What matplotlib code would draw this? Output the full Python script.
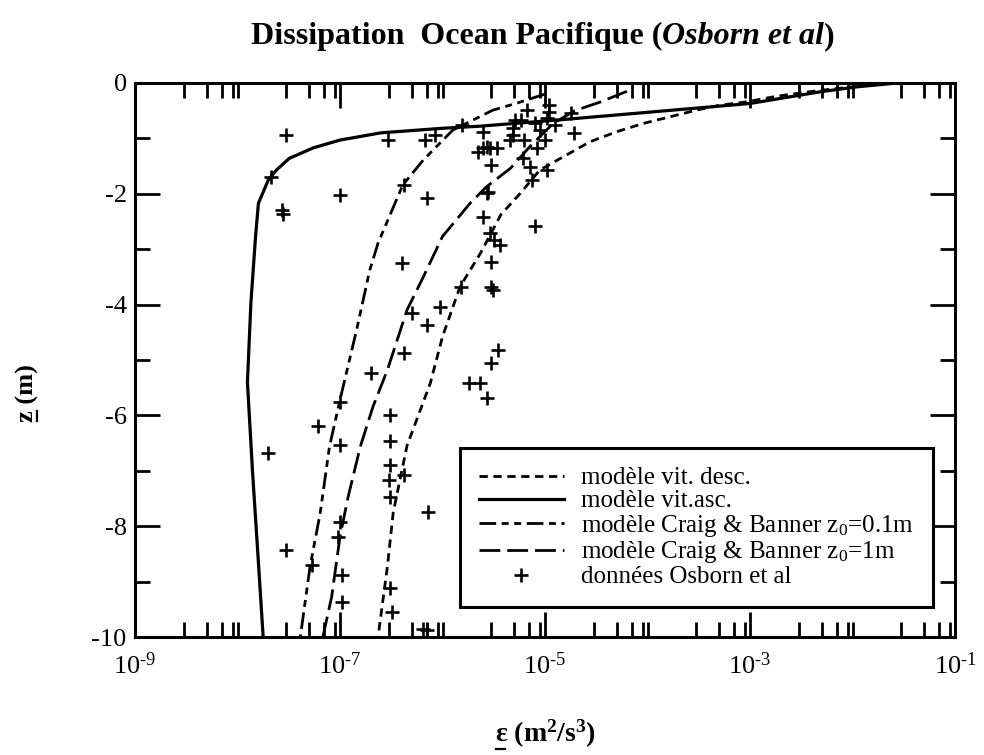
import matplotlib
matplotlib.use("Agg")
import matplotlib.pyplot as plt
from matplotlib.ticker import FixedLocator, NullFormatter
from matplotlib.lines import Line2D

plt.rcParams["font.family"] = ["Liberation Serif", "DejaVu Serif"]
plt.rcParams["mathtext.fontset"] = "custom"
plt.rcParams["mathtext.rm"] = "Liberation Serif"
plt.rcParams["mathtext.it"] = "Liberation Serif:italic"
plt.rcParams["mathtext.bf"] = "Liberation Serif:bold"
plt.rcParams["mathtext.default"] = "regular"
plt.rcParams["axes.unicode_minus"] = False
plt.rcParams["lines.scale_dashes"] = False

# --- model profiles: depth z (m) and dissipation eps (m^2/s^3) ---
asc_z = [0.0, -0.07, -0.16, -0.37, -0.66, -0.78, -0.82, -0.90, -1.03, -1.17,
         -1.36, -1.57, -1.75, -2.17, -2.77, -3.98, -5.4, -7.0, -8.5, -10.0]
asc_eps = [2.7e-2, 1.1e-2, 4.8e-3, 1.0e-3, 1.5e-5, 2.3e-6, 9.5e-7, 2.5e-7, 1.0e-7, 5.5e-8,
           3.2e-8, 2.4e-8, 2.0e-8, 1.6e-8, 1.5e-8, 1.35e-8, 1.25e-8, 1.4e-8, 1.58e-8, 1.78e-8]

desc_z = [-0.06, -0.14, -0.24, -0.34, -0.40, -0.49, -0.61, -0.73, -0.88, -1.06, -1.30, -1.57,
          -1.99, -2.38, -3.07, -3.68, -4.58, -5.42, -6.55, -7.76, -8.73, -10.0]
desc_eps = [1.1e-2, 4.5e-3, 1.8e-3, 9.3e-4, 5.1e-4, 3.0e-4, 1.66e-4, 9.1e-5, 5.0e-5, 2.75e-5,
            1.62e-5, 8.9e-6, 5.75e-6, 3.7e-6, 2.35e-6, 1.48e-6, 1.0e-6, 7.6e-7, 4.5e-7, 3.3e-7,
            2.9e-7, 2.35e-7]

cb01_z = [-0.2, -0.36, -0.49, -0.85, -1.39, -1.84, -2.89, -3.38, -4.46, -5.72,
          -6.56, -7.77, -8.73, -10.0]
cb01_eps = [1.0e-5, 5.4e-6, 3.1e-6, 1.26e-6, 6.5e-7, 4.1e-7, 2.35e-7, 1.95e-7, 1.45e-7, 1.0e-7,
            7.9e-8, 6.4e-8, 5.1e-8, 4.1e-8]

cb1_z = [-0.15, -0.34, -0.5, -0.73, -1.15, -1.54, -1.87, -2.17, -2.77, -3.50,
         -4.10, -5.18, -5.84, -6.56, -7.47, -8.19, -9.27, -10.0]
cb1_eps = [6.3e-5, 3.5e-5, 1.95e-5, 1.2e-5, 7.1e-6, 4.6e-6, 2.7e-6, 1.86e-6, 1.0e-6, 6.5e-7,
           4.5e-7, 2.9e-7, 2.1e-7, 1.58e-7, 1.2e-7, 1.0e-7, 8.3e-8, 6.8e-8]

# --- Osborn et al. measurements ---
obs_eps = [3.0e-8, 2.95e-7, 6.7e-7, 8.5e-7, 1.55e-6, 2.5e-6, 2.5e-6, 2.9e-6, 2.2e-6, 3.4e-6,
           3.0e-6, 4.9e-6, 5.1e-6, 2.1e-8, 1.0e-7, 7.0e-7, 4.2e-7, 2.7e-6, 2.7e-8, 2.8e-8,
           2.5e-6, 2.9e-6, 3.2e-6, 3.6e-6, 3.0e-6, 3.0e-6, 3.1e-6, 4.0e-7, 1.5e-6, 9.5e-7,
           5.0e-7, 7.0e-7, 4.2e-7, 2.0e-7, 3.5e-6, 3.0e-6, 1.8e-6, 2.3e-6, 2.7e-6, 1.0e-7,
           6.1e-8, 2.0e-8, 1.0e-7, 3.1e-7, 3.1e-7, 3.1e-7, 4.2e-7, 3.0e-7, 3.1e-7, 7.3e-7,
           1.0e-7, 9.6e-8, 3.0e-8, 5.3e-8, 1.05e-7, 1.05e-7, 3.1e-7, 3.2e-7, 6.6e-6, 1.1e-5,
           4.9e-6, 1.05e-5, 8.0e-6, 1.8e-5, 1.9e-5, 2.7e-6, 8.3e-6, 6.1e-6, 7.1e-6, 1.05e-5,
           7.4e-6, 2.8e-6, 8.0e-6, 5.8e-6, 9.0e-6, 1.26e-5, 6.3e-6, 1.0e-5, 4.6e-6, 1.1e-5,
           6.5e-7, 7.0e-7]
obs_z = [-0.94, -1.03, -1.03, -0.94, -0.76, -0.88, -1.17, -1.17, -1.24, -1.17,
         -1.48, -0.94, -0.67, -1.69, -2.02, -2.08, -1.84, -1.99, -2.30, -2.37,
         -2.41, -2.71, -2.83, -2.92, -3.23, -3.68, -3.74, -3.25, -3.68, -4.04,
         -4.16, -4.37, -4.88, -5.24, -4.82, -5.06, -5.42, -5.42, -5.69, -5.75,
         -6.19, -6.68, -6.53, -5.99, -6.47, -6.90, -7.08, -7.17, -7.47, -7.74,
         -7.92, -8.19, -8.43, -8.70, -8.88, -9.36, -9.12, -9.54, -0.49, -0.40,
         -0.81, -0.64, -0.73, -0.55, -0.91, -1.15, -1.18, -1.36, -1.51, -1.57,
         -1.75, -1.96, -2.59, -0.67, -0.85, -0.76, -1.03, -1.03, -1.03, -0.52,
         -9.85, -9.88]

x_major = [1e-9, 1e-7, 1e-5, 1e-3, 1e-1]
x_labels = ["10$^{\u20109}$", "10$^{\u20107}$", "10$^{\u20105}$",
            "10$^{\u20103}$", "10$^{\u20101}$"]
y_major = [0, -2, -4, -6, -8, -10]
y_labels = ["0", "-2", "-4", "-6", "-8", "-10"]

W, H = 984, 755
fig = plt.figure(figsize=(W / 100, H / 100), dpi=100)
ax = fig.add_axes([135 / W, 1 - 637 / H, 820 / W, 554 / H])

lw = 2.0
ax.plot(desc_eps, desc_z, color="black", lw=lw, linestyle=(0, (6, 4)),
        label="modèle vit. desc.")
ax.plot(asc_eps, asc_z, color="black", lw=lw + 0.3, linestyle="-",
        label="modèle vit.asc.")
ax.plot(cb01_eps, cb01_z, color="black", lw=lw, linestyle=(0, (12, 4, 5, 4, 5, 4)),
        label="modèle Craig & Banner z$_0$=0.1m")
ax.plot(cb1_eps, cb1_z, color="black", lw=lw, linestyle=(0, (15, 5)),
        label="modèle Craig & Banner z$_0$=1m")
ax.plot(obs_eps, obs_z, linestyle="none", marker="+", color="black",
        markersize=10, markeredgewidth=1.9, label="données Osborn et al")

ax.set_xscale("log")
ax.set_xlim(1e-9, 1e-1)
ax.set_ylim(-10, 0)

minor_x = []
for k in range(-9, -1):
    for m in (3, 5, 7, 9):
        minor_x.append(m * 10.0 ** k)
for k in (-8, -6, -4, -2):
    minor_x.append(10.0 ** k)
ax.xaxis.set_major_locator(FixedLocator(x_major))
ax.xaxis.set_minor_locator(FixedLocator(minor_x))
ax.xaxis.set_minor_formatter(NullFormatter())
ax.set_xticklabels(x_labels)
ax.yaxis.set_major_locator(FixedLocator(y_major))
ax.yaxis.set_minor_locator(FixedLocator([-1, -3, -5, -7, -9]))
ax.set_yticklabels(y_labels)

ax.tick_params(which="both", direction="in", top=True, right=True,
               width=2.0, labelsize=19)
ax.tick_params(axis="y", pad=6)
ax.tick_params(axis="x", pad=11)
ax.tick_params(which="major", length=18)
ax.tick_params(which="minor", length=11)
for s in ax.spines.values():
    s.set_linewidth(2.2)

leg = ax.legend(loc="lower right", bbox_to_anchor=(0.973, 0.054), fontsize=18,
                frameon=True, fancybox=False, edgecolor="black", framealpha=1,
                handlelength=3.4, handletextpad=0.7, labelspacing=0.02,
                borderpad=0.75, borderaxespad=0)
leg.get_frame().set_linewidth(2.2)

# title built from roman and italic pieces, centred over the axes
fig.canvas.draw()
r = fig.canvas.get_renderer()
parts = [("Dissipation  Ocean Pacifique (", "normal"), ("Osborn et al", "italic"), (")", "normal")]
texts = [fig.text(0, 1 - 44 / H, s, fontsize=23, fontweight="bold", style=st,
                  va="baseline", ha="left") for s, st in parts]
widths = [t.get_window_extent(r).width for t in texts]
xpos = 543 - sum(widths) / 2
for t, w in zip(texts, widths):
    t.set_x(xpos / W)
    xpos += w

# axis labels with underlined symbol
xl = fig.text(545 / W, 1 - 742 / H, "ε (m$^2$/s$^3$)", fontsize=20, fontweight="bold",
              ha="center", va="baseline")
yl = fig.text(27 / W, 362 / H, "z (m)", fontsize=19, fontweight="bold",
              ha="center", va="center", rotation=90)
fig.canvas.draw()
r = fig.canvas.get_renderer()
probe = fig.text(0, 0, "ε", fontsize=20, fontweight="bold")
ew = probe.get_window_extent(r).width
probe.set_text("z")
probe.set_fontsize(19)
zw = probe.get_window_extent(r).width
probe.remove()
bb = xl.get_window_extent(r)
fig.add_artist(Line2D([(bb.x0 + 1) / W, (bb.x0 + ew - 1) / W],
                      [(bb.y0 + 1) / H, (bb.y0 + 1) / H], color="black", lw=1.6))
bb = yl.get_window_extent(r)
fig.add_artist(Line2D([(bb.x1 - 2) / W, (bb.x1 - 2) / W],
                      [(bb.y0 + 1) / H, (bb.y0 + zw - 1) / H], color="black", lw=1.6))

fig.savefig("out.png", dpi=100)
